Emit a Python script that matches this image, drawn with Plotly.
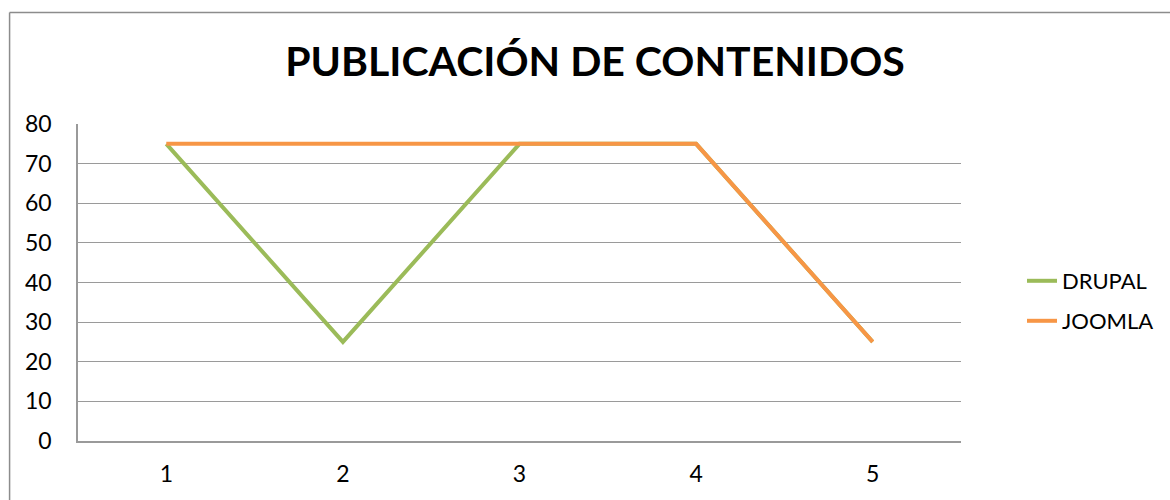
import plotly.graph_objects as go

categories = [1, 2, 3, 4, 5]
drupal = [75, 25, 75, 75, 25]
joomla = [75, 75, 75, 75, 25]
y_ticks = [0, 10, 20, 30, 40, 50, 60, 70, 80]
title_text = "PUBLICACIÓN DE CONTENIDOS"

W, H = 1170, 500
ml, mr, mt, mb = 78, 208, 124, 59
pw, ph = W - ml - mr, H - mt - mb

def px_x(px):
    return (px - ml) / pw

def px_y(py):
    return 1 - (py - mt) / ph

FONT = "Lato"
GRID = "#9a9a9a"

fig = go.Figure()
fig.add_trace(go.Scatter(x=categories, y=drupal, mode="lines", name="DRUPAL",
                         line=dict(color="#9BBB59", width=4), legend="legend",
                         showlegend=True))
fig.add_trace(go.Scatter(x=categories, y=joomla, mode="lines", name="JOOMLA",
                         line=dict(color="#F79646", width=4), legend="legend2",
                         showlegend=True))

legend_common = dict(font=dict(family=FONT, size=22, color="#000"),
                     bgcolor="rgba(0,0,0,0)", xanchor="left", yanchor="middle",
                     itemwidth=30, visible=True)

fig.update_layout(
    width=W, height=H,
    showlegend=True,
    margin=dict(l=ml, r=mr, t=mt, b=mb),
    paper_bgcolor="white", plot_bgcolor="white",
    font=dict(family=FONT, color="#000"),
    title=dict(text="<b>" + title_text + "</b>", x=595 / W, xanchor="center",
               y=1 - 62 / H, yanchor="middle",
               font=dict(family=FONT, size=41, color="#000")),
    legend=dict(x=px_x(1022), y=px_y(281), **legend_common),
    legend2=dict(x=px_x(1022), y=px_y(321), **legend_common),
    xaxis=dict(range=[0.5, 5.5], tickvals=categories, ticktext=[str(c) for c in categories],
               showgrid=False, showline=True, linecolor=GRID, linewidth=1.5,
               ticks="", tickfont=dict(family=FONT, size=23, color="#000"),
               ticklabelstandoff=12, zeroline=False, fixedrange=True),
    yaxis=dict(range=[0, 80], tickvals=y_ticks, showgrid=True, gridcolor=GRID, gridwidth=1.2,
               showline=True, linecolor=GRID, linewidth=1.5, ticks="",
               tickfont=dict(family=FONT, size=23, color="#000"),
               ticklabelstandoff=20, zeroline=False, fixedrange=True),
    shapes=[
        dict(type="line", xref="paper", yref="paper", x0=px_x(9.5), x1=px_x(9.5),
             y0=px_y(12.5), y1=px_y(520), line=dict(color="#8c8c8c", width=1.5)),
        dict(type="line", xref="paper", yref="paper", x0=px_x(9.5), x1=px_x(1200),
             y0=px_y(12.5), y1=px_y(12.5), line=dict(color="#8c8c8c", width=1.5)),
    ],
)

fig.write_html("out.html", config={"displayModeBar": False},
               post_script="document.body.style.margin='0';document.body.style.overflow='hidden';")
